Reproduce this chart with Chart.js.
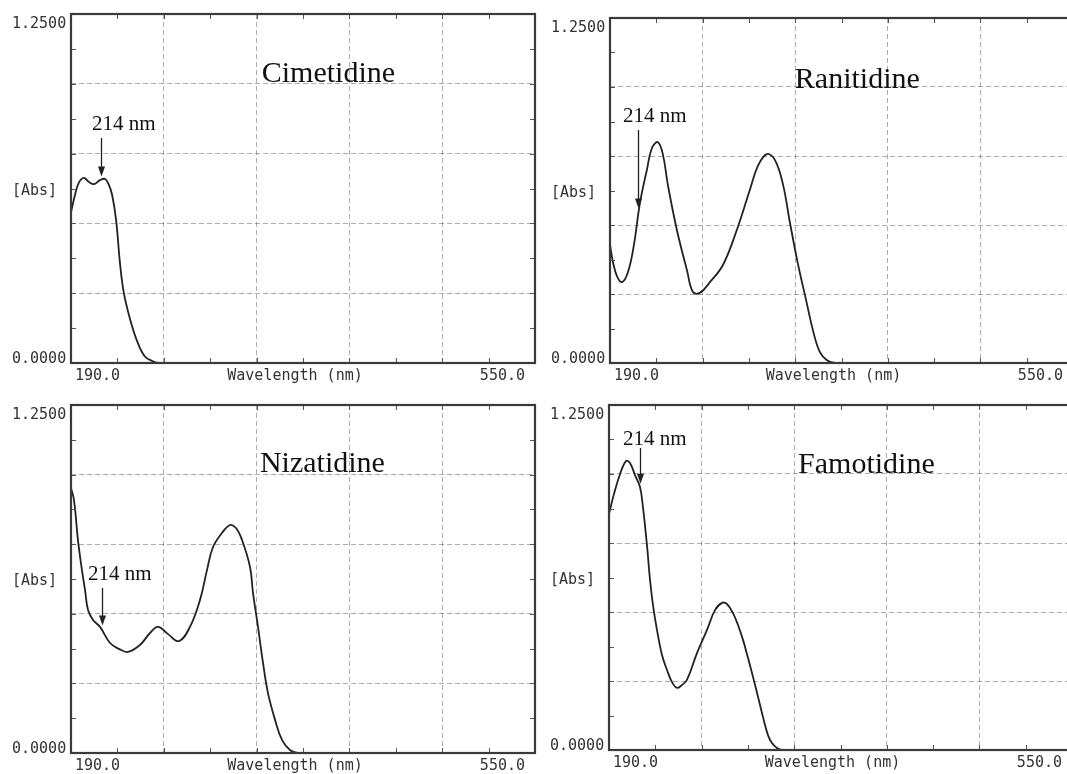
<!DOCTYPE html>
<html>
<head>
<meta charset="utf-8">
<title>UV spectra of H2-receptor antagonists</title>
<script src="https://cdn.jsdelivr.net/npm/chart.js@4.4.0/dist/chart.umd.min.js"></script>
<style>
  html, body { margin: 0; padding: 0; background: #fff; overflow: hidden; }
  #wrap { position: relative; width: 1067px; height: 774px; overflow: hidden; }
  canvas { position: absolute; }
</style>
</head>
<body>
<div id="wrap">
  <canvas id="cim" width="545" height="390" style="left:0;top:0"></canvas>
  <canvas id="ran" width="540" height="390" style="left:545px;top:0"></canvas>
  <canvas id="niz" width="545" height="384" style="left:0;top:390px"></canvas>
  <canvas id="fam" width="540" height="384" style="left:545px;top:390px"></canvas>
</div>
<script>
// wavelength (nm) and absorbance
const cimWl  = [190, 193, 196, 200, 204, 208, 212.5, 216.5, 219.5, 222, 225, 228, 231, 236, 241, 247, 253, 259, 550];
const cimAbs = [0.54, 0.60, 0.645, 0.663, 0.648, 0.641, 0.655, 0.659, 0.637, 0.60, 0.512, 0.358, 0.251, 0.154, 0.082, 0.025, 0.007, 0, 0];

const ranWl  = [190, 192.3, 195.4, 199.3, 204, 208.6, 213.3, 218.7, 222.6, 227.3, 231.2, 235, 242, 249.8, 254.5, 259.9, 267.7, 277.8, 288.6, 298.7, 305, 311.9, 318.2, 324.4, 329.8, 336, 343, 347.7, 353.1, 358.5, 365, 550];
const ranAbs = [0.428, 0.366, 0.315, 0.293, 0.33, 0.428, 0.58, 0.70, 0.779, 0.80, 0.754, 0.645, 0.482, 0.337, 0.257, 0.254, 0.293, 0.355, 0.482, 0.627, 0.714, 0.757, 0.736, 0.649, 0.511, 0.362, 0.217, 0.12, 0.04, 0.011, 0, 0];

const nizWl  = [190, 192.3, 195.4, 198.5, 200.9, 203.2, 207.1, 212.5, 220.3, 227.2, 234.2, 243.5, 251.3, 257.5, 265.3, 273.8, 282.3, 290.1, 295.5, 300.2, 307.1, 313.4, 318, 322.7, 328.9, 331.2, 335.1, 339, 342.8, 348.3, 353.7, 359.9, 366, 550];
const nizAbs = [0.952, 0.909, 0.765, 0.657, 0.585, 0.514, 0.478, 0.453, 0.395, 0.374, 0.363, 0.388, 0.431, 0.453, 0.427, 0.402, 0.453, 0.55, 0.657, 0.74, 0.79, 0.819, 0.808, 0.765, 0.668, 0.575, 0.453, 0.323, 0.216, 0.119, 0.047, 0.011, 0, 0];

const famWl  = [190, 193.9, 198.6, 203.2, 206.3, 210.2, 214.1, 216.4, 219.5, 221.9, 224.2, 227.3, 231.2, 235.1, 239, 242.9, 246.8, 250.6, 258.4, 266.2, 272.4, 277.9, 281.7, 286.4, 290.3, 294.2, 298.1, 302, 305.9, 309.7, 313.6, 316.7, 320.6, 324.5, 550];
const famAbs = [0.855, 0.928, 1.0, 1.047, 1.04, 0.996, 0.953, 0.88, 0.743, 0.616, 0.525, 0.435, 0.344, 0.29, 0.246, 0.225, 0.236, 0.254, 0.351, 0.435, 0.507, 0.533, 0.529, 0.496, 0.453, 0.399, 0.333, 0.264, 0.192, 0.12, 0.054, 0.025, 0.007, 0, 0];

const xGrid  = [262, 334, 406, 478];
const yGrid  = [0.25, 0.5, 0.75, 1.0];
const xMinor = [226, 262, 298, 334, 370, 406, 442, 478, 514];
const yMinor = [0.125, 0.25, 0.375, 0.5, 0.625, 0.75, 0.875, 1.0, 1.125];
const xTickLabels = ['190.0', '550.0'];
const yTickLabels = ['0.0000', '1.2500'];
const xTitle = 'Wavelength (nm)';
const yTitle = '[Abs]';
const note = '214 nm';

const panels = [
  { id: 'cim', title: 'Cimetidine', wl: cimWl, abs: cimAbs,
    pad: { left: 71, top: 14, right: 10, bottom: 27 },
    titleAt: [338, 1.006], noteAt: [206.3, 0.835], arrow: [213.3, 0.806, 0.668] },
  { id: 'ran', title: 'Ranitidine', wl: ranWl, abs: ranAbs,
    pad: { left: 65, top: 18, right: 12, bottom: 27 },
    titleAt: [333.7, 0.996], noteAt: [200.1, 0.873], arrow: [212, 0.844, 0.56] },
  { id: 'niz', title: 'Nizatidine', wl: nizWl, abs: nizAbs,
    pad: { left: 71, top: 15, right: 10, bottom: 21 },
    titleAt: [336.6, 1.009], noteAt: [203.2, 0.621], arrow: [214, 0.593, 0.458] },
  { id: 'fam', title: 'Famotidine', wl: famWl, abs: famAbs,
    pad: { left: 64, top: 15, right: 13, bottom: 24 },
    titleAt: [337, 1.004], noteAt: [200.9, 1.105], arrow: [214.1, 1.094, 0.965] }
];

const mono = '15px "DejaVu Sans Mono", monospace';
const serif = '"Liberation Serif", "Times New Roman", serif';

function decor(p) {
  return {
    id: 'decor_' + p.id,
    afterDatasetsDraw(chart) {
      const { ctx, chartArea: a, scales: { x, y } } = chart;
      ctx.save();
      // inward minor ticks on all four sides
      ctx.strokeStyle = '#555';
      ctx.lineWidth = 1;
      ctx.beginPath();
      xMinor.forEach(v => {
        const px = Math.round(x.getPixelForValue(v)) + 0.5;
        ctx.moveTo(px, a.top); ctx.lineTo(px, a.top + 5);
        ctx.moveTo(px, a.bottom); ctx.lineTo(px, a.bottom - 5);
      });
      yMinor.forEach(v => {
        const py = Math.round(y.getPixelForValue(v)) + 0.5;
        ctx.moveTo(a.left, py); ctx.lineTo(a.left + 5, py);
        ctx.moveTo(a.right, py); ctx.lineTo(a.right - 5, py);
      });
      ctx.stroke();
      // frame
      ctx.strokeStyle = '#3a3a3a';
      ctx.lineWidth = 2.2;
      ctx.strokeRect(a.left, a.top, a.right - a.left, a.bottom - a.top);

      // axis labels
      ctx.fillStyle = '#333';
      ctx.font = mono;
      ctx.textBaseline = 'alphabetic';
      ctx.textAlign = 'left';
      ctx.fillText(yTickLabels[1], a.left - 59, a.top + 14);
      ctx.fillText(yTickLabels[0], a.left - 59, a.bottom);
      ctx.fillText(yTitle, a.left - 59, (a.top + a.bottom) / 2 + 6);
      ctx.fillText(xTickLabels[0], a.left + 4, a.bottom + 17);
      ctx.textAlign = 'right';
      ctx.fillText(xTickLabels[1], a.right - 10, a.bottom + 17);
      ctx.textAlign = 'center';
      ctx.fillText(xTitle, (a.left + a.right) / 2 - 8, a.bottom + 17);

      // compound name
      ctx.fillStyle = '#111';
      ctx.textAlign = 'left';
      ctx.font = '30px ' + serif;
      ctx.fillText(p.title, x.getPixelForValue(p.titleAt[0]), y.getPixelForValue(p.titleAt[1]));

      // 214 nm note with arrow
      ctx.font = '21px ' + serif;
      ctx.fillText(note, x.getPixelForValue(p.noteAt[0]), y.getPixelForValue(p.noteAt[1]));
      const ax = Math.round(x.getPixelForValue(p.arrow[0])) + 0.5;
      const ay1 = y.getPixelForValue(p.arrow[1]);
      const ay2 = y.getPixelForValue(p.arrow[2]);
      ctx.strokeStyle = '#222';
      ctx.lineWidth = 1.3;
      ctx.beginPath();
      ctx.moveTo(ax, ay1); ctx.lineTo(ax, ay2 - 8);
      ctx.stroke();
      ctx.fillStyle = '#222';
      ctx.beginPath();
      ctx.moveTo(ax - 3.5, ay2 - 10); ctx.lineTo(ax + 3.5, ay2 - 10); ctx.lineTo(ax, ay2);
      ctx.closePath();
      ctx.fill();
      ctx.restore();
    }
  };
}

panels.forEach(p => {
  new Chart(document.getElementById(p.id), {
    type: 'line',
    data: {
      datasets: [{
        label: p.title,
        data: p.wl.map((w, i) => ({ x: w, y: p.abs[i] })),
        borderColor: '#222',
        borderWidth: 1.8,
        pointRadius: 0,
        tension: 0.4,
        fill: false
      }]
    },
    options: {
      responsive: false,
      animation: false,
      layout: { padding: p.pad },
      plugins: { legend: { display: false }, tooltip: { enabled: false } },
      scales: {
        x: {
          type: 'linear', min: 190, max: 550,
          afterBuildTicks: s => { s.ticks = xGrid.map(v => ({ value: v })); },
          ticks: { display: false },
          grid: { color: 'rgba(0,0,0,0.32)', lineWidth: 1, drawTicks: false },
          border: { display: false, dash: [5, 3] }
        },
        y: {
          min: 0, max: 1.25,
          afterBuildTicks: s => { s.ticks = yGrid.map(v => ({ value: v })); },
          ticks: { display: false },
          grid: { color: 'rgba(0,0,0,0.32)', lineWidth: 1, drawTicks: false },
          border: { display: false, dash: [5, 3] }
        }
      }
    },
    plugins: [decor(p)]
  });
});
</script>
</body>
</html>
